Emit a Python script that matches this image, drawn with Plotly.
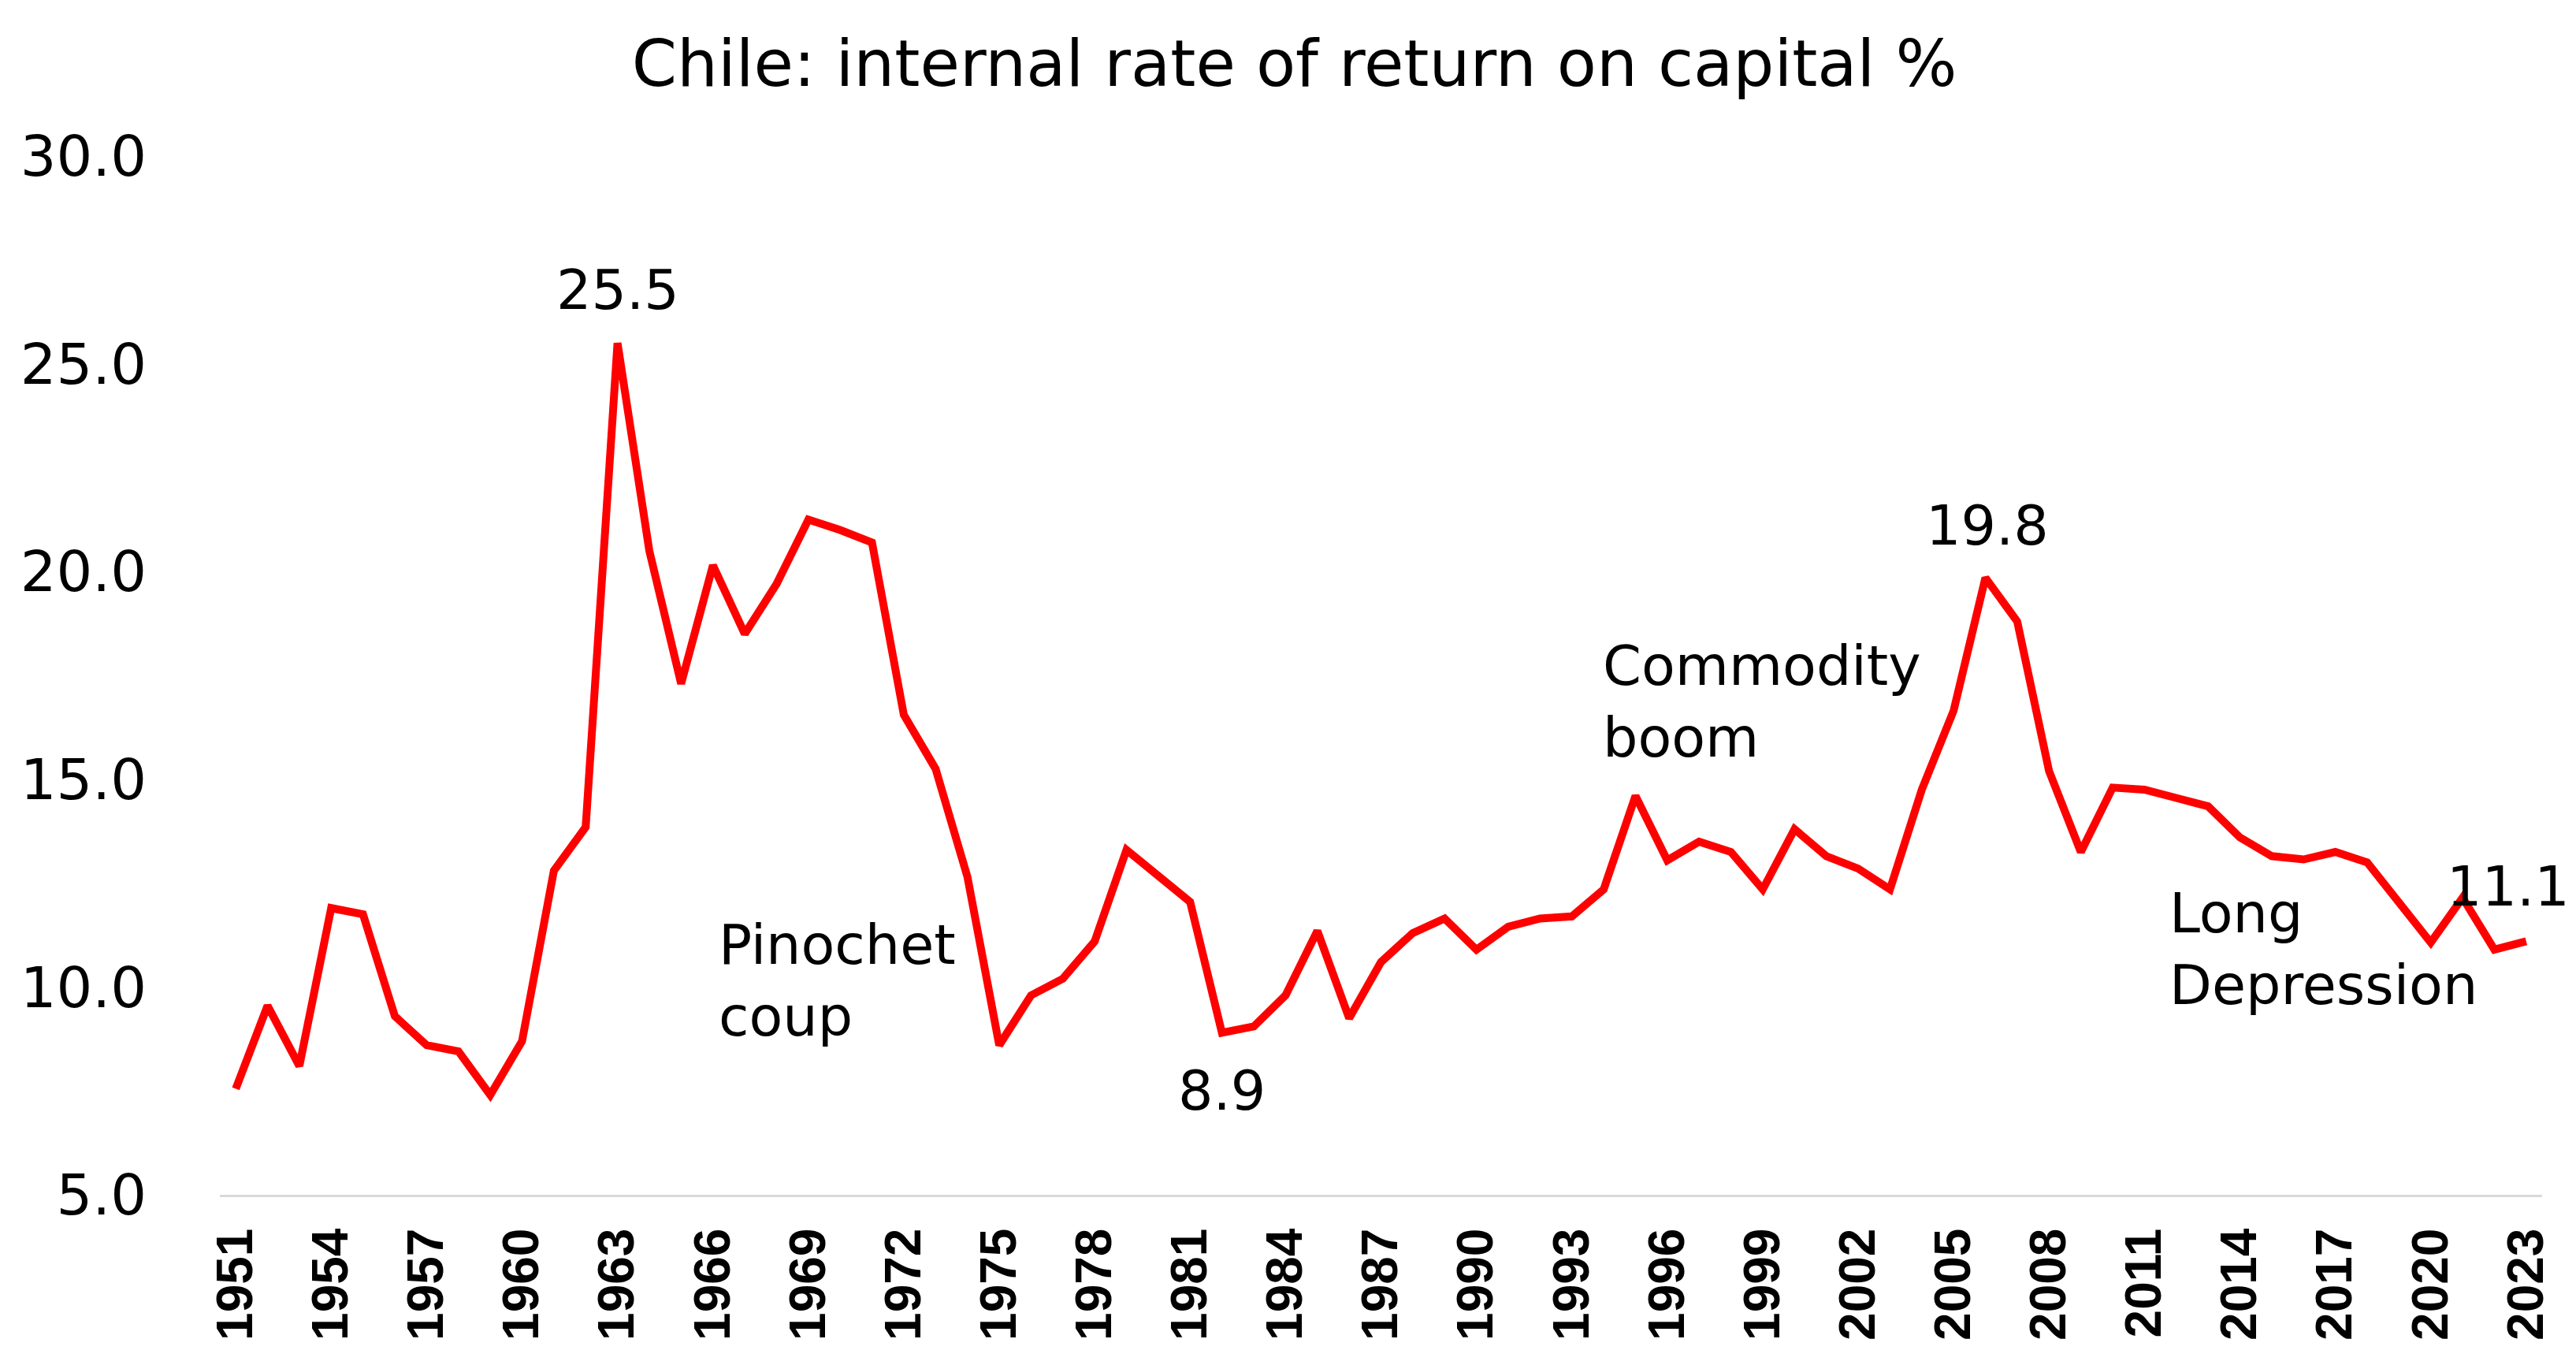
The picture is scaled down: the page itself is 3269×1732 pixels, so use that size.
import plotly.graph_objects as go

years = list(range(1951, 2024))
rate = [
    7.55, 9.55, 8.1, 11.9, 11.75, 9.3, 8.6, 8.45, 7.4, 8.7,
    12.8, 13.85, 25.5, 20.5, 17.3, 20.15, 18.5, 19.7, 21.25, 21.0,
    20.7, 16.55, 15.25, 12.65, 8.6, 9.8, 10.2, 11.1, 13.3, 12.7,
    12.05, 8.9, 9.05, 9.8, 11.35, 9.25, 10.6, 11.3, 11.65, 10.9,
    11.45, 11.65, 11.7, 12.35, 14.6, 13.05, 13.5, 13.25, 12.35, 13.8,
    13.15, 12.85, 12.35, 14.75, 16.65, 19.85, 18.8, 15.2, 13.25, 14.8,
    14.75, 14.55, 14.35, 13.6, 13.15, 13.07, 13.25, 13.0, 12.05, 11.07,
    12.15, 10.9, 11.1,
]
tick_years = list(range(1951, 2024, 3))
y_ticks = [5, 10, 15, 20, 25, 30]

value_labels = [("25.5", 1963, 26.77), ("8.9", 1982, 7.51), ("19.8", 2006.05, 21.1), ("11.1", 2022.44, 12.41)]
text_notes = [("Pinochet<br>coup", 1966.12, 10.15), ("Commodity<br>boom", 1993.92, 16.86),
              ("Long<br>Depression", 2011.74, 10.91)]

FONT = "DejaVu Sans, Liberation Sans, sans-serif"

fig = go.Figure()
fig.add_trace(go.Scatter(
    x=years, y=rate, mode="lines",
    line=dict(color="#FF0000", width=10),
    showlegend=False, hoverinfo="skip",
))

annotations = []
for txt, x, y in value_labels:
    annotations.append(dict(text=txt, x=x, y=y, xref="x", yref="y", showarrow=False,
                            xanchor="center", yanchor="middle",
                            font=dict(family=FONT, size=70, color="black")))
for txt, x, y in text_notes:
    annotations.append(dict(text=txt, x=x, y=y, xref="x", yref="y", showarrow=False,
                            xanchor="left", yanchor="middle", align="left",
                            font=dict(family=FONT, size=70, color="black")))

fig.update_layout(
    width=3269, height=1732,
    margin=dict(l=271, r=51, t=190, b=224),
    paper_bgcolor="white", plot_bgcolor="white",
    title=dict(text="Chile: internal rate of return on capital %",
               x=0.5, xref="container", xanchor="center",
               y=1 - 72 / 1732, yref="container", yanchor="middle",
               font=dict(family=FONT, size=82, color="black")),
    annotations=annotations,
    xaxis=dict(range=[1950.5, 2023.5], tickmode="array", tickvals=tick_years,
               ticktext=[str(y) for y in tick_years], tickangle=-90,
               showgrid=False, zeroline=False, showline=True,
               linecolor="#d9d9d9", linewidth=3, ticks="",
               ticklabelstandoff=14, automargin=False,
               tickfont=dict(family="Liberation Sans, Arial, sans-serif",
                             size=64, color="black", weight="bold")),
    yaxis=dict(range=[5, 30], tickmode="array", tickvals=y_ticks,
               ticktext=[f"{v:.1f}" for v in y_ticks],
               showgrid=False, zeroline=False, showline=False, ticks="",
               ticklabelstandoff=92, automargin=False,
               tickfont=dict(family=FONT, size=72, color="black")),
)

fig.write_html("out.html")
